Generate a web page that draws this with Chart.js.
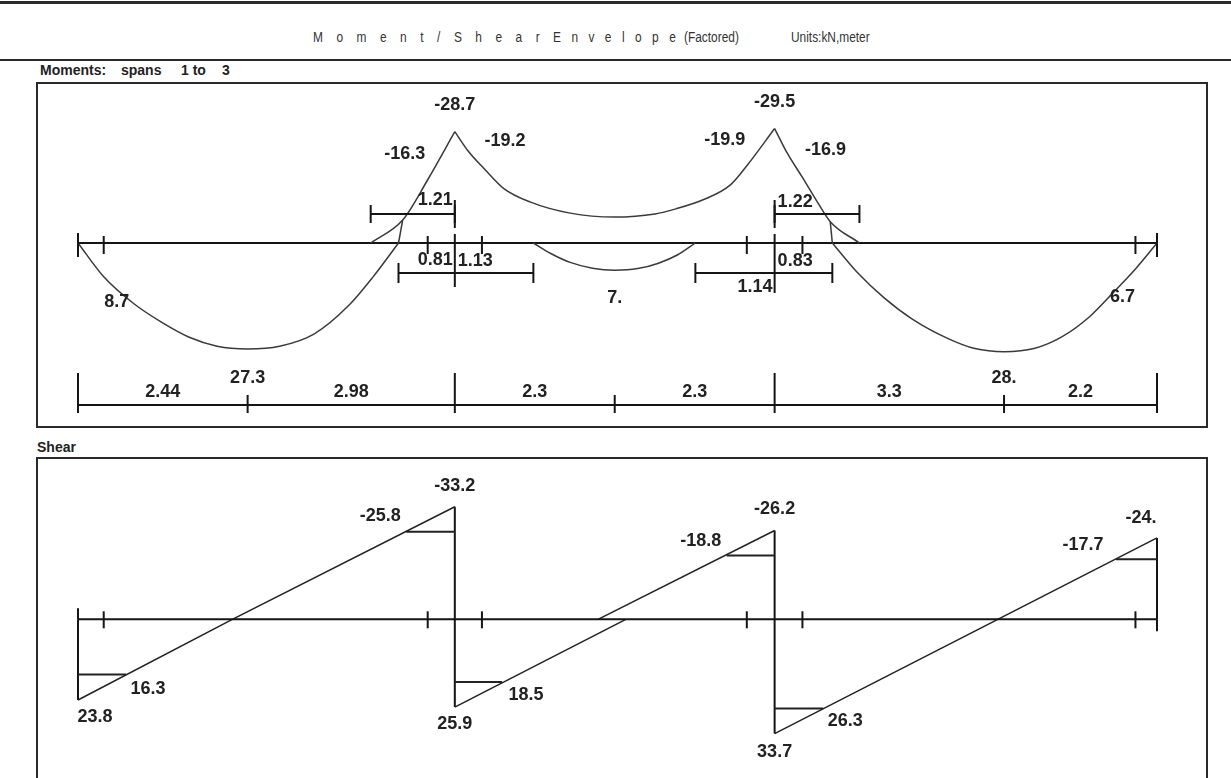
<!DOCTYPE html>
<html>
<head>
<meta charset="utf-8">
<script src="https://cdn.jsdelivr.net/npm/chart.js@4.4.1/dist/chart.umd.min.js"></script>
<style>
  html, body { margin:0; padding:0; background:#fff; }
  body { width:1231px; height:778px; position:relative; overflow:hidden; font-family:"Liberation Sans", Arial, sans-serif; color:#222; }
  .rule { position:absolute; left:0; width:1231px; background:#2a2a2a; }
  .box { position:absolute; border:2px solid #2a2a2a; box-sizing:border-box; }
  .t { position:absolute; white-space:pre; line-height:14px; }
  .title { font-family:"Liberation Sans", Arial, sans-serif; font-size:14px; top:30px; color:#333; transform:scaleX(0.85); transform-origin:0 50%; }
  .sec { font-weight:bold; font-size:14px; color:#222; }
  #wrap { position:absolute; left:0; top:0; width:1231px; height:778px; }
</style>
</head>
<body>
<div class="rule" style="top:1px;height:3px"></div>
<div class="rule" style="top:59px;height:2px"></div>
<span class="t title" style="left:313px;letter-spacing:15.9px">Moment/Shear</span>
<span class="t title" style="left:553px;letter-spacing:12.3px">Envelope</span>
<span class="t title" style="left:684px">(Factored)</span>
<span class="t title" style="left:791px">Units:kN,meter</span>
<span class="t sec" style="left:40px;top:63px">Moments:</span>
<span class="t sec" style="left:121px;top:63px">spans</span>
<span class="t sec" style="left:181px;top:63px">1 to</span>
<span class="t sec" style="left:222px;top:63px">3</span>
<span class="t sec" style="left:37px;top:440px">Shear</span>
<div class="box" style="left:36px;top:82px;width:1172px;height:346px"></div>
<div class="box" style="left:36px;top:457px;width:1172px;height:340px"></div>
<div id="wrap"><canvas id="c" width="1231" height="778"></canvas></div>
<script>
// ---------------- data (metres, kN, kN·m) ----------------
const supportX = [0, 5.42, 10.02, 15.52];
const faceX = [0.37, 5.03, 5.81, 9.62, 10.42, 15.21];

// moment envelope curves [x, M]  (positive = sagging, drawn below axis)
const momentMaxSpan1 = [[0,0],[0.37,8.7],[0.8,15.6],[1.2,20.4],[1.6,24.3],[2.0,26.6],[2.44,27.3],[2.9,26.6],[3.4,23.4],[3.9,16.0],[4.25,8.6],[4.61,0]];
const momentMaxTail1 = [[4.61,0],[4.67,-5.9]];
const momentNegSupport1 = [[4.21,0],[4.67,-5.9],[5.03,-16.3],[5.42,-28.7]];
const momentNegSpan2 = [[5.42,-28.7],[5.62,-23.5],[5.85,-19.0],[6.12,-14.1],[6.5,-10.6],[7.08,-7.7],[7.72,-6.7],[8.3,-7.5],[8.6,-8.8],[9.0,-11.2],[9.38,-14.9],[9.62,-19.9],[10.02,-29.5]];
const momentMaxSpan2 = [[6.55,0],[6.8,2.7],[7.08,5.0],[7.4,6.5],[7.72,7.0],[8.05,6.6],[8.35,5.2],[8.62,3.1],[8.88,0]];
const momentNegSupport2 = [[10.02,-29.5],[10.2,-23.2],[10.42,-16.9],[10.62,-11.0],[10.82,-5.5],[11.24,0]];
const momentMaxTail3 = [[10.82,-5.5],[10.85,0]];
const momentMaxSpan3 = [[10.85,0],[11.2,7.4],[11.6,14.2],[12.0,19.6],[12.5,24.5],[12.9,27.2],[13.32,28.0],[13.75,27.2],[14.15,24.2],[14.55,19.0],[14.9,12.6],[15.21,6.7],[15.52,0]];

// moment value labels [x, M, text]
const momentLabels = [[5.42,-28.7,'-28.7'],[10.02,-29.5,'-29.5'],[5.03,-16.3,'-16.3'],[5.81,-19.2,'-19.2'],[9.62,-19.9,'-19.9'],[10.42,-16.9,'-16.9'],[0.37,8.7,'8.7'],[7.72,7.0,'7.'],[15.21,6.7,'6.7']];
// negative-moment extent brackets [from, to, text]
const negBrackets = [[4.21,5.42,'1.21'],[10.02,11.24,'1.22']];
// positive-moment extent brackets [from, support, to, leftText, rightText]
const posBrackets = [[4.61,5.42,6.55,'0.81','1.13'],[8.88,10.02,10.85,'1.14','0.83']];
// span dimension segments [from, to, text]
const spanDims = [[0,2.44,'2.44'],[2.44,5.42,'2.98'],[5.42,7.72,'2.3'],[7.72,10.02,'2.3'],[10.02,13.32,'3.3'],[13.32,15.52,'2.2']];
// max positive moments [x, text]
const maxMomentMarks = [[2.44,'27.3'],[13.32,'28.']];

// shear envelope [x, V]
const shearSpan1 = [[0,23.8],[2.22,0],[5.42,-33.2]];
const shearSpan2Max = [[5.42,25.9],[7.88,0]];
const shearSpan2Min = [[7.48,0],[10.02,-26.2]];
const shearSpan3 = [[10.02,33.7],[13.23,0],[15.52,-24.0]];
const shearJumps = [[[0,0],[0,23.8]],[[5.42,-33.2],[5.42,25.9]],[[10.02,-26.2],[10.02,33.7]],[[15.52,-24.0],[15.52,0]]];
// shear end labels [x, V, text]
const shearLabels = [[0,23.8,'23.8'],[5.42,-33.2,'-33.2'],[5.42,25.9,'25.9'],[10.02,-26.2,'-26.2'],[10.02,33.7,'33.7'],[15.52,-24.0,'-24.']];
// critical sections [support, x, V, text]
const shearCrit = [[0,0.69,16.3,'16.3'],[5.42,4.72,-25.8,'-25.8'],[5.42,6.10,18.5,'18.5'],[10.02,9.33,-18.8,'-18.8'],[10.02,10.72,26.3,'26.3'],[15.52,14.93,-17.7,'-17.7']];

// ---------------- layout / style ----------------
const INK = '#151515', CURVE = '#3a3a3a';
const LABEL_FONT = 'bold 18px "Liberation Sans", Arial, sans-serif';
const momLabelOff = [[0,-27],[0,-27],[-23,-26],[23,-27],[-22,-26],[23,-27],[13,25],[0,28],[-13,28]];
const shearLabelOff = [[17,17],[0,-21],[0,17],[0,-21],[0,18],[-16,-20]];
const critLabelOff = [[22,14],[-26,-16],[24,13],[-26,-15],[22,13],[-33,-14]];
const W = 1231, H = 778;
const momAxisPx = 243, momPxPerUnit = 3.88;
const shearAxisPx = 619.3, shearPxPerUnit = 3.39;

const pts = a => a.map(([x,y]) => ({x, y}));
const L = supportX[supportX.length-1];
function curve(arr, axis, opts) {
  return Object.assign({data: pts(arr), yAxisID: axis, showLine: true, pointRadius: 0, clip: false,
    borderColor: CURVE, borderWidth: 1.5, cubicInterpolationMode: 'monotone', fill: false}, opts || {});
}
const straight = {tension: 0, cubicInterpolationMode: 'default'};
const datasets = [
  curve(momentMaxSpan1,'yM'), curve(momentMaxTail1,'yM',straight), curve(momentNegSupport1,'yM'), curve(momentNegSpan2,'yM'),
  curve(momentMaxSpan2,'yM'), curve(momentNegSupport2,'yM'), curve(momentMaxTail3,'yM',straight), curve(momentMaxSpan3,'yM'),
  curve([[0,0],[L,0]],'yM',Object.assign({borderColor:INK,borderWidth:2},straight)),
  curve([[0,0],[L,0]],'yV',Object.assign({borderColor:INK,borderWidth:2},straight)),
  curve(shearSpan1,'yV',Object.assign({borderColor:'#222'},straight)),
  curve(shearSpan2Max,'yV',Object.assign({borderColor:'#222'},straight)),
  curve(shearSpan2Min,'yV',Object.assign({borderColor:'#222'},straight)),
  curve(shearSpan3,'yV',Object.assign({borderColor:'#222'},straight))
].concat(shearJumps.map(j => curve(j,'yV',Object.assign({borderColor:INK,borderWidth:2},straight))));

const annot = {
  id: 'annot',
  afterDatasetsDraw(chart) {
    const c = chart.ctx, sx = chart.scales.x, sm = chart.scales.yM, sv = chart.scales.yV;
    const X = v => sx.getPixelForValue(v), YM = v => sm.getPixelForValue(v), YV = v => sv.getPixelForValue(v);
    const m0 = YM(0), v0 = YV(0);
    c.save();
    c.strokeStyle = INK; c.lineWidth = 2; c.lineCap = 'butt';
    const seg = (x1,y1,x2,y2) => { c.beginPath(); c.moveTo(x1,y1); c.lineTo(x2,y2); c.stroke(); };
    const vt = (x,y1,y2) => seg(x,y1,x,y2);
    const txt = (s,x,y,align) => { c.textAlign = align || 'center'; c.fillText(s,x,y); };
    c.font = LABEL_FONT; c.fillStyle = '#222'; c.textBaseline = 'middle';

    // ---- moments ----
    vt(X(0), m0-10, m0+14); vt(X(L), m0-10, m0+14);
    faceX.forEach(f => vt(X(f), m0-7, m0+11));
    const inner = supportX.slice(1,-1);
    inner.forEach((s,i) => { vt(X(s), m0-43, m0-15); vt(X(s), m0-9, m0+(i===0?44:50)); });
    negBrackets.forEach(([a,b,t]) => {
      const y = m0-29; seg(X(a),y,X(b),y); vt(X(a),y-9,y+9); vt(X(b),y-9,y+9);
      const isSupRight = inner.includes(b);
      if (isSupRight) txt(t, X(b)-2, m0-43, 'right'); else txt(t, X(a)+3, m0-41, 'left');
    });
    posBrackets.forEach(([a,s,b,tl,tr], i) => {
      const y = m0+30; seg(X(a),y,X(b),y); vt(X(a),y-10,y+10); vt(X(b),y-10,y+10);
      txt(tr, X(s)+3, m0+18, 'left');
      if (i===0) txt(tl, X(s)-2, m0+17, 'right'); else txt(tl, X(s)-2, m0+44, 'right');
    });
    const dy = m0+162; seg(X(0),dy,X(L),dy);
    supportX.forEach(s => vt(X(s), m0+130, m0+170));
    spanDims.forEach(([a,b,t]) => {
      if (!supportX.includes(b)) vt(X(b), m0+152, m0+170);
      txt(t, X((a+b)/2), m0+149);
    });
    maxMomentMarks.forEach(([x,t]) => txt(t, X(x), m0+135));
    momentLabels.forEach(([x,v,t],i) => txt(t, X(x)+momLabelOff[i][0], YM(v)+momLabelOff[i][1]));

    // ---- shear ----
    vt(X(0), v0-11, v0); vt(X(L), v0, v0+12);
    faceX.forEach(f => vt(X(f), v0-8, v0+9));
    c.strokeStyle = '#222';
    shearCrit.forEach(([s,x,v,t],i) => {
      seg(X(s), YV(v), X(x), YV(v));
      txt(t, X(x)+critLabelOff[i][0], YV(v)+critLabelOff[i][1]);
    });
    shearLabels.forEach(([x,v,t],i) => txt(t, X(x)+shearLabelOff[i][0], YV(v)+shearLabelOff[i][1]));
    c.restore();
  }
};

new Chart(document.getElementById('c').getContext('2d'), {
  type: 'scatter',
  data: { datasets },
  options: {
    responsive: false, animation: false, devicePixelRatio: 1,
    layout: { padding: { left: 78, right: 74, top: 0, bottom: 0 } },
    plugins: { legend: { display: false }, tooltip: { enabled: false }, title: { display: false } },
    scales: {
      x: { type: 'linear', min: 0, max: L, display: false },
      yM: { type: 'linear', reverse: true, min: -momAxisPx/momPxPerUnit, max: (H-momAxisPx)/momPxPerUnit, display: false },
      yV: { type: 'linear', reverse: true, min: -shearAxisPx/shearPxPerUnit, max: (H-shearAxisPx)/shearPxPerUnit, display: false }
    }
  },
  plugins: [annot]
});
</script>
</body>
</html>
